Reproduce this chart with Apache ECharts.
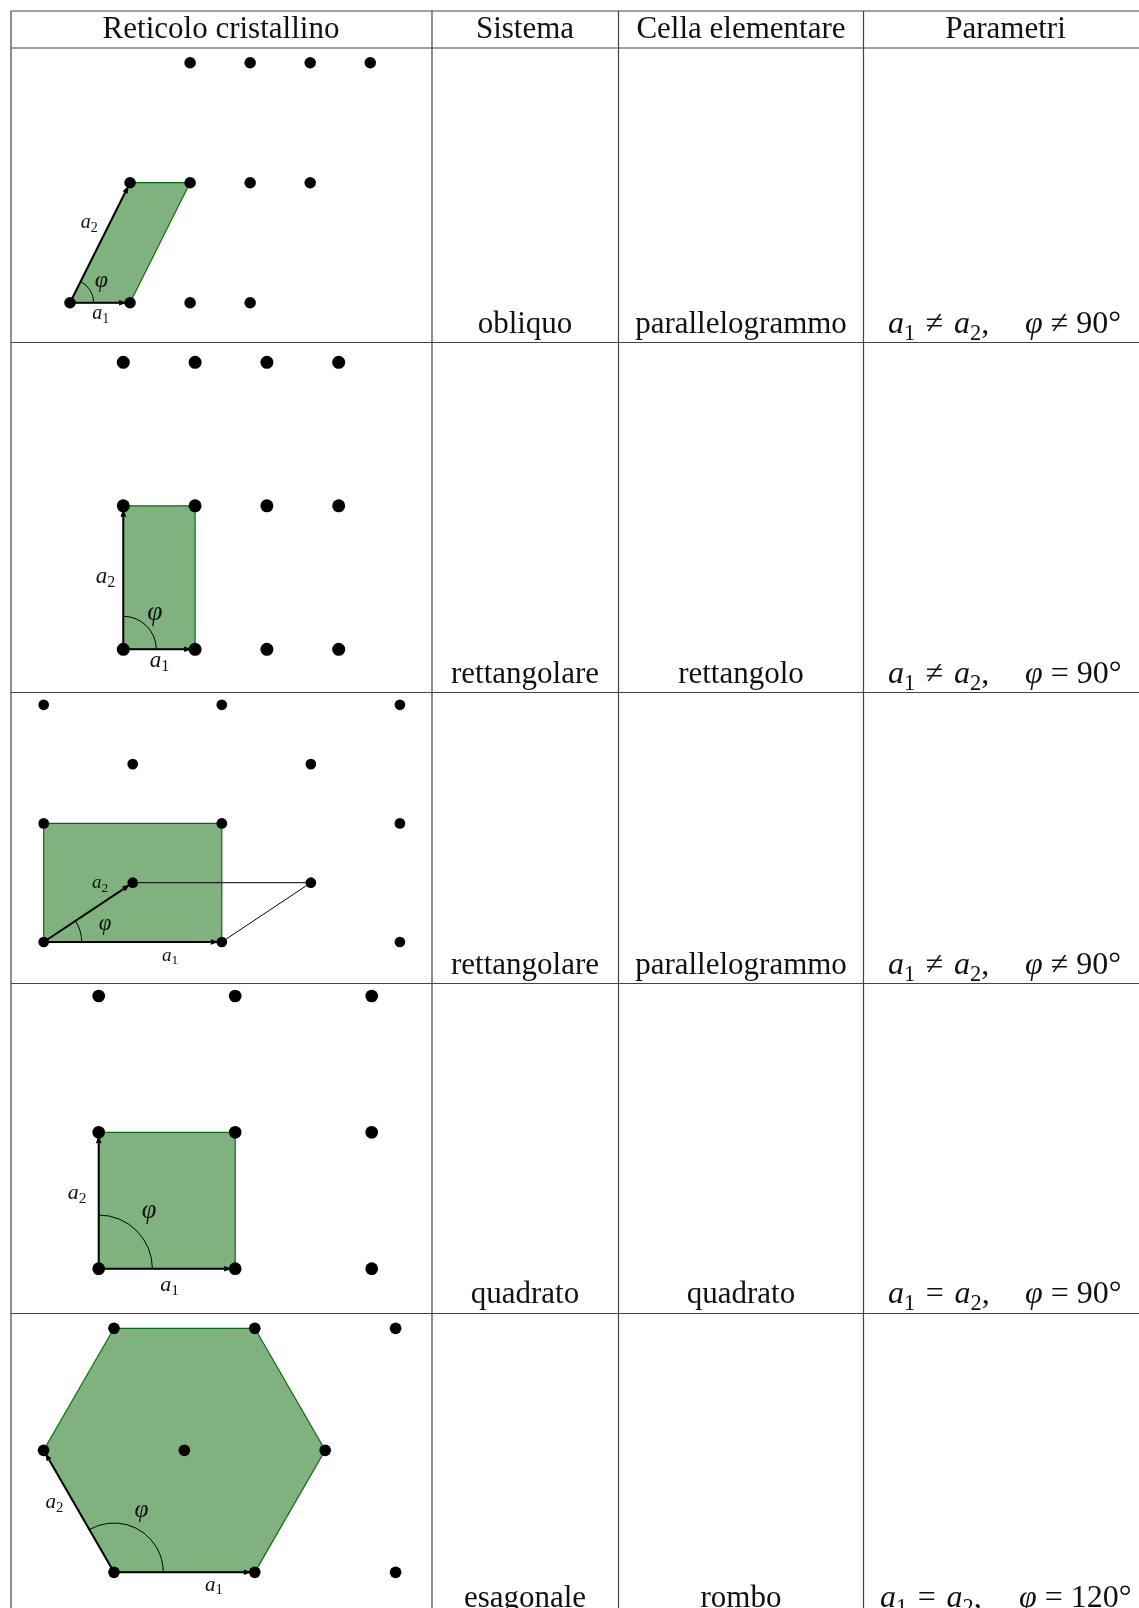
<!DOCTYPE html>
<html>
<head>
<meta charset="utf-8">
<style>html,body{margin:0;padding:0;background:#fff;overflow:hidden}#main{width:1139px;height:1608px}</style>
<script src="https://cdn.jsdelivr.net/npm/echarts@6/dist/echarts.min.js"></script>
</head>
<body>
<div id="main"></div>
<script>
// table text
var headers = ['Reticolo cristallino', 'Sistema', 'Cella elementare', 'Parametri'];
var sistemi = ['obliquo', 'rettangolare', 'rettangolare', 'quadrato', 'esagonale'];
var celle = ['parallelogrammo', 'rettangolo', 'parallelogrammo', 'quadrato', 'rombo'];
var paramA = ['≠', '≠', '≠', '=', '='];
var paramPhi = ['≠ 90°', '= 90°', '≠ 90°', '= 90°', '= 120°'];

// lattice points, in lattice units of each panel
var puntiObliquo = [[0,0],[1,0],[2,0],[3,0],[1,2],[2,2],[3,2],[4,2],[2,4],[3,4],[4,4],[5,4]];
var puntiRett = [[0,0],[1,0],[2,0],[3,0],[0,2],[1,2],[2,2],[3,2],[0,4],[1,4],[2,4],[3,4]];
var puntiCentrato = [[0,0],[2,0],[4,0],[1,1],[3,1],[0,2],[2,2],[4,2],[1,3],[3,3],[0,4],[2,4],[4,4]];
var puntiQuadrato = [[0,0],[1,0],[2,0],[0,1],[1,1],[2,1],[0,2],[1,2],[2,2]];
var puntiEsagonale = [[0,0],[2,0],[4,0],[-1,1],[1,1],[3,1],[0,2],[2,2],[4,2]];

// unit cells and basis vectors
var cellaObliquo = [[0,0],[1,0],[2,2],[1,2]];
var cellaRett = [[0,0],[1,0],[1,2],[0,2]];
var cellaCentrato = [[0,0],[2,0],[2,2],[0,2]];
var cellaQuadrato = [[0,0],[1,0],[1,1],[0,1]];
var cellaEsagonale = [[0,0],[2,0],[3,1],[2,2],[0,2],[-1,1]];
var primitivaCentrato = [[0,0],[2,0],[3,1],[1,1]];
var a1Vettori = [[1,0],[1,0],[2,0],[1,0],[2,0]];
var a2Vettori = [[1,2],[0,2],[1,1],[0,1],[-1,1]];
var angoliPhi = [63.4, 90, 33.7, 90, 120];

var panels = [
	{x0: 70, y0: 302.7, ux: 60.05, uy: 60, dot: 11.5, r: 23.7, punti: puntiObliquo, cella: cellaObliquo, font: 20,
		a1: [100.7, 314], a2: [89.3, 222.5], phi: [101.5, 280.5]},
	{x0: 123.3, y0: 649.3, ux: 71.8, uy: 71.75, dot: 13, r: 33, punti: puntiRett, cella: cellaRett, font: 23,
		a1: [159.5, 660.5], a2: [105.5, 576.5], phi: [155, 612.5]},
	{x0: 43.7, y0: 942, ux: 89.05, uy: 59.3, dot: 10.7, r: 38, punti: puntiCentrato, cella: cellaCentrato, font: 19,
		a1: [170, 955.5], a2: [100, 883], phi: [105, 924], extra: primitivaCentrato},
	{x0: 98.7, y0: 1268.7, ux: 136.5, uy: 136.35, dot: 12.7, r: 53.7, punti: puntiQuadrato, cella: cellaQuadrato, font: 22,
		a1: [169.5, 1285], a2: [77, 1193], phi: [149, 1211]},
	{x0: 114, y0: 1572.3, ux: 70.4, uy: 122, dot: 11.7, r: 49.3, punti: puntiEsagonale, cella: cellaEsagonale, font: 21,
		a1: [214, 1585], a2: [54.5, 1502.5], phi: [141.5, 1510]}
];

var FONT = '"Liberation Serif", serif';
var xRules = [11, 432, 618.5, 863.5];
var yRules = [11, 48, 342.5, 692.5, 983.5, 1313.5];
var colX = [221, 525, 741, 1005.5];
var rowText = [325, 675, 966, 1295, 1599];
var paramX = [[888, 1025], [888, 1025], [888, 1025], [888, 1025], [880, 1019]];

function mathRich(size) {
	return {
		i: {fontFamily: FONT, fontStyle: 'italic', fontSize: size, fill: '#111', lineHeight: size * 1.24, verticalAlign: 'middle'},
		r: {fontFamily: FONT, fontSize: size, fill: '#111', lineHeight: size * 1.24, verticalAlign: 'middle'},
		s: {fontFamily: FONT, fontSize: size * 0.7, fill: '#111', lineHeight: size * 1.24, verticalAlign: 'bottom'}
	};
}

function mathText(x, y, str, size, align) {
	return {type: 'text', z: 20, style: {x: x, y: y, text: str, rich: mathRich(size), align: align || 'center', verticalAlign: 'middle'}};
}

function plainText(x, y, str) {
	return {type: 'text', z: 20, style: {x: x, y: y, text: str, fontFamily: FONT, fontSize: 31, fill: '#111', align: 'center', verticalAlign: 'middle'}};
}

var graphics = [];
xRules.forEach(function(x) {
	graphics.push({type: 'line', z: 1, shape: {x1: x, y1: 11, x2: x, y2: 1608}, style: {stroke: '#444', lineWidth: 1.2}});
});
yRules.forEach(function(y) {
	graphics.push({type: 'line', z: 1, shape: {x1: 11, y1: y, x2: 1139, y2: y}, style: {stroke: '#444', lineWidth: 1.2}});
});
headers.forEach(function(h, i) {
	graphics.push(plainText(colX[i], 29.5, h));
});
sistemi.forEach(function(s, i) {
	graphics.push(plainText(colX[1], rowText[i], s));
	graphics.push(plainText(colX[2], rowText[i], celle[i]));
	graphics.push(mathText(paramX[i][0], rowText[i], '{i|a}{s|1}{r|\u200a ' + paramA[i] + ' \u200a}{i|a}{s|2}{r|,}', 32, 'left'));
	graphics.push(mathText(paramX[i][1], rowText[i], '{i|φ}{r| ' + paramPhi[i] + '}', 32, 'left'));
});

var grids = [], xAxes = [], yAxes = [], series = [];

function arrow(api, from, to) {
	var a = api.coord(from), b = api.coord(to);
	var len = Math.sqrt((b[0]-a[0])*(b[0]-a[0]) + (b[1]-a[1])*(b[1]-a[1]));
	var ux = (b[0]-a[0]) / len, uy = (b[1]-a[1]) / len;
	var tip = [b[0] - ux * 3, b[1] - uy * 3];
	var base = [tip[0] - ux * 8, tip[1] - uy * 8];
	return [
		{type: 'line', shape: {x1: a[0], y1: a[1], x2: base[0], y2: base[1]}, style: {stroke: '#000', lineWidth: 2}},
		{type: 'polygon', shape: {points: [tip, [base[0] - uy * 2.8, base[1] + ux * 2.8], [base[0] + uy * 2.8, base[1] - ux * 2.8]]}, style: {fill: '#000'}}
	];
}

panels.forEach(function(p, i) {
	var xs = p.punti.map(function(d) { return d[0]; });
	var ys = p.punti.map(function(d) { return d[1]; });
	var xMin = Math.min.apply(null, xs), xMax = Math.max.apply(null, xs);
	var yMin = Math.min.apply(null, ys), yMax = Math.max.apply(null, ys);
	grids.push({
		left: p.x0 + xMin * p.ux,
		top: p.y0 - yMax * p.uy,
		width: (xMax - xMin) * p.ux,
		height: (yMax - yMin) * p.uy
	});
	xAxes.push({type: 'value', gridIndex: i, min: xMin, max: xMax, show: false});
	yAxes.push({type: 'value', gridIndex: i, min: yMin, max: yMax, show: false});

	// cell, basis vectors and angle
	series.push({
		type: 'custom', xAxisIndex: i, yAxisIndex: i, clip: false, z: 2, silent: true,
		data: [[0, 0]],
		renderItem: function(params, api) {
			var children = [];
			children.push({
				type: 'polygon',
				shape: {points: p.cella.map(function(c) { return api.coord(c); })},
				style: {fill: '#80b280', stroke: '#0b6b0b', lineWidth: 1.2}
			});
			if (p.extra) {
				children.push({
					type: 'polyline',
					shape: {points: p.extra.slice(1).map(function(c) { return api.coord(c); })},
					style: {fill: 'none', stroke: '#000', lineWidth: 1}
				});
			}
			children = children.concat(arrow(api, [0, 0], a1Vettori[i]), arrow(api, [0, 0], a2Vettori[i]));
			var o = api.coord([0, 0]);
			children.push({
				type: 'arc',
				shape: {cx: o[0], cy: o[1], r: p.r, startAngle: -angoliPhi[i] * Math.PI / 180, endAngle: 0, clockwise: true},
				style: {fill: 'none', stroke: '#000', lineWidth: 1}
			});
			return {type: 'group', children: children};
		}
	});

	series.push({
		type: 'scatter', xAxisIndex: i, yAxisIndex: i, clip: false, z: 3, silent: true,
		symbol: 'circle', symbolSize: p.dot,
		itemStyle: {color: '#000', opacity: 1},
		data: p.punti
	});

	graphics.push(mathText(p.a1[0], p.a1[1], '{i|a}{s|1}', p.font));
	graphics.push(mathText(p.a2[0], p.a2[1], '{i|a}{s|2}', p.font));
	graphics.push(mathText(p.phi[0], p.phi[1], '{i|φ}', p.font * 1.2));
});

var dom = document.getElementById('main');
var myChart = echarts.init(dom, null, {renderer: 'canvas'});
var option = {
	animation: false,
	backgroundColor: '#fff',
	grid: grids,
	xAxis: xAxes,
	yAxis: yAxes,
	series: series,
	graphic: {elements: graphics}
};
myChart.setOption(option, true);
</script>
</body>
</html>
